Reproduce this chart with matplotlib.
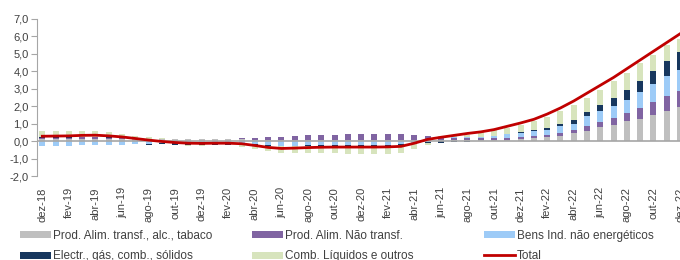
import numpy as np
import matplotlib
matplotlib.use('Agg')
import matplotlib.pyplot as plt
from matplotlib.patches import Patch
from matplotlib.lines import Line2D

plt.rcParams['font.family'] = ['Liberation Sans', 'DejaVu Sans']

# Month labels, dez-18 .. dez-22
MONTHS = ['jan', 'fev', 'mar', 'abr', 'mai', 'jun', 'jul', 'ago', 'set', 'out', 'nov', 'dez']
labels = ['dez-18'] + [f'{m}-{y}' for y in (19, 20, 21, 22) for m in MONTHS]

# contributions (p.p.)
alim_transf = [0.12, 0.12, 0.12, 0.13, 0.13, 0.12, 0.11, 0.10, 0.10, 0.10, 0.10, 0.10,
               0.13, 0.13, 0.12, 0.10, 0.06, 0.06, 0.06, 0.06, 0.06, 0.06, 0.06, 0.06,
               0.07, 0.07, 0.07, 0.07, 0.07, 0.06, 0.06, 0.05, 0.05, 0.06, 0.07, 0.09,
               0.13, 0.19, 0.25, 0.32, 0.44, 0.57, 0.79, 0.95, 1.14, 1.29, 1.48, 1.70, 1.95]
alim_nao_transf = [0.08, 0.08, 0.08, 0.09, 0.09, 0.08, 0.07, 0.06, 0.04, 0.03, 0.02, 0.02,
                   0.02, 0.02, 0.03, 0.06, 0.13, 0.17, 0.20, 0.24, 0.27, 0.29, 0.30, 0.32,
                   0.34, 0.34, 0.34, 0.33, 0.30, 0.26, 0.20, 0.15, 0.12, 0.10, 0.09, 0.08,
                   0.08, 0.09, 0.09, 0.13, 0.19, 0.32, 0.33, 0.40, 0.49, 0.62, 0.75, 0.90, 0.95]
bens_ind = [-0.30, -0.30, -0.28, -0.25, -0.24, -0.22, -0.20, -0.18, -0.15, -0.10, -0.10, -0.12,
            -0.05, -0.05, -0.05, -0.08, -0.18, -0.25, -0.28, -0.26, -0.25, -0.25, -0.25, -0.25,
            -0.25, -0.24, -0.22, -0.18, -0.10, -0.05, -0.02, 0.02, 0.05, 0.10, 0.15, 0.21,
            0.23, 0.29, 0.32, 0.40, 0.37, 0.53, 0.58, 0.68, 0.74, 0.89, 1.03, 1.13, 1.20]
electr_gas = [0.04, 0.03, 0.03, 0.03, 0.03, 0.02, 0.02, 0.00, -0.05, -0.08, -0.10, -0.10,
              -0.18, -0.18, -0.18, -0.15, -0.05, -0.04, -0.02, -0.02, -0.02, -0.02, -0.03, -0.04,
              -0.04, -0.04, -0.04, -0.04, -0.05, -0.05, -0.06, -0.05, -0.04, -0.02, 0.01, 0.02,
              0.07, 0.06, 0.10, 0.12, 0.23, 0.23, 0.35, 0.45, 0.57, 0.65, 0.76, 0.86, 0.98]
comb_liq = [0.35, 0.33, 0.33, 0.34, 0.32, 0.28, 0.22, 0.15, 0.10, 0.03, -0.03, -0.05,
            -0.03, -0.02, -0.02, -0.08, -0.20, -0.30, -0.38, -0.40, -0.40, -0.40, -0.40, -0.42,
            -0.45, -0.47, -0.48, -0.45, -0.30, -0.15, 0.02, 0.10, 0.15, 0.25, 0.30, 0.36,
            0.42, 0.51, 0.62, 0.73, 0.85, 0.81, 0.89, 0.97, 0.98, 1.00, 0.94, 0.90, 0.75]
total = [0.28, 0.29, 0.30, 0.33, 0.34, 0.30, 0.24, 0.15, 0.06, -0.02, -0.08, -0.12,
         -0.13, -0.12, -0.12, -0.15, -0.25, -0.36, -0.42, -0.40, -0.37, -0.35, -0.34, -0.34,
         -0.34, -0.34, -0.33, -0.30, -0.12, 0.10, 0.22, 0.33, 0.44, 0.53, 0.66, 0.85,
         1.04, 1.25, 1.55, 1.90, 2.30, 2.75, 3.20, 3.65, 4.15, 4.65, 5.15, 5.65, 6.15]

series = [
    ('Prod. Alim. transf., alc., tabaco', alim_transf, '#bfbfbf'),
    ('Prod. Alim. Não transf.', alim_nao_transf, '#8064a2'),
    ('Bens Ind. não energéticos', bens_ind, '#9dcbf7'),
    ('Electr., gás, comb., sólidos', electr_gas, '#17375e'),
    ('Comb. Líquidos e outros', comb_liq, '#d7e4bd'),
]
RED = '#c00000'
TXT = '#404040'

x = np.arange(len(labels))

fig = plt.figure(figsize=(6.8, 2.6), dpi=100)
ax = fig.add_axes([37 / 680, 0.323, (688 - 37) / 680, 0.604])

pos_bottom = np.zeros(len(x))
neg_bottom = np.zeros(len(x))
for name, vals, color in series:
    v = np.array(vals)
    bottom = np.where(v >= 0, pos_bottom, neg_bottom)
    ax.bar(x, v, width=0.45, bottom=bottom, color=color, zorder=2)
    pos_bottom += np.clip(v, 0, None)
    neg_bottom += np.clip(v, None, 0)

ax.axhline(0, color='#a6a6a6', lw=1.2, zorder=3)
ax.plot(x, total, color=RED, lw=2.0, zorder=4)

ax.set_xlim(-0.4, 48.6)
ax.set_ylim(-2, 7)
ax.set_yticks(np.arange(-2, 8, 1))
ax.set_yticklabels([f'{v:.1f}'.replace('.', ',') for v in np.arange(-2, 8, 1)])
ax.set_xticks(x[::2])
ax.set_xticklabels(labels[::2], rotation=90)
ax.tick_params(axis='x', length=0, pad=8, labelsize=8, colors=TXT)
ax.tick_params(axis='y', length=4, width=0.8, color='#a6a6a6', labelsize=8, colors=TXT, pad=2)
ax.tick_params(axis='y', color='#a6a6a6')
for side in ('top', 'right', 'bottom'):
    ax.spines[side].set_visible(False)
ax.spines['left'].set_color('#a6a6a6')
ax.set_facecolor('none')

# legend: three columns placed at fixed x positions
cols = [
    [(series[0][0], series[0][2]), (series[3][0], series[3][2])],
    [(series[1][0], series[1][2]), (series[4][0], series[4][2])],
    [(series[2][0], series[2][2]), ('Total', None)],
]
for xpos, entries in zip([14 / 680, 246 / 680, 478 / 680], cols):
    handles = []
    names = []
    for name, color in entries:
        if color is None:
            handles.append(Line2D([0], [0], color=RED, lw=2))
        else:
            handles.append(Patch(facecolor=color, edgecolor='none'))
        names.append(name)
    fig.legend(handles, names, loc='upper left', bbox_to_anchor=(xpos, 0.14),
               frameon=False, fontsize=8.5, handlelength=2.6, handleheight=0.55,
               handletextpad=0.2, labelspacing=0.75, borderpad=0, labelcolor=TXT)

fig.savefig('out.png', dpi=100)
